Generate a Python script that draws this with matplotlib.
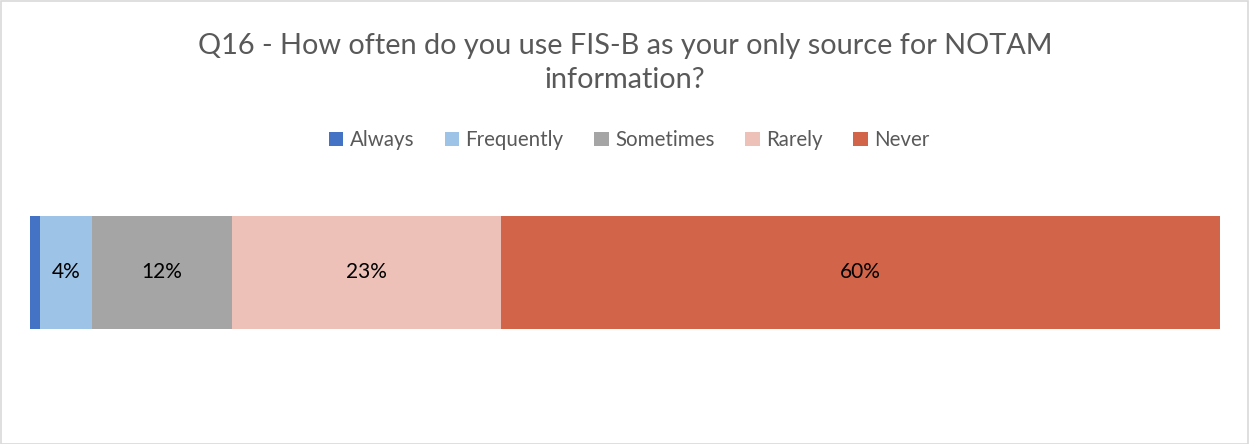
import matplotlib
matplotlib.use("Agg")
import matplotlib.pyplot as plt
from matplotlib.patches import Rectangle

categories = ["Always", "Frequently", "Sometimes", "Rarely", "Never"]
values = [0.8, 4.4, 11.8, 22.6, 60.4]
labels = ["", "4%", "12%", "23%", "60%"]
colors = ["#4472C4", "#9DC3E6", "#A5A5A5", "#EDC0B8", "#D26549"]
title = "Q16 - How often do you use FIS-B as your only source for NOTAM\ninformation?"

plt.rcParams['font.family'] = ['Lato', 'DejaVu Sans']

W, H = 1249, 444
fig = plt.figure(figsize=(W / 100, H / 100), dpi=100)
fig.patches.append(Rectangle((0.5 / W, 0.5 / H), 1 - 2 / W, 1 - 2 / H, transform=fig.transFigure,
                             fill=False, edgecolor="#D9D9D9", linewidth=1.2))

ax = fig.add_axes([30 / W, (H - 329) / H, 1190 / W, 113 / H])
left = 0
handles = []
for cat, v, lab, c in zip(categories, values, labels, colors):
    b = ax.barh(0, v, left=left, height=1.0, color=c, label=cat)
    handles.append(b)
    if lab:
        ax.text(left + v / 2, 0, lab, ha="center", va="center", fontsize=15, color="#000000")
    left += v
ax.set_xlim(0, 100)
ax.set_ylim(-0.5, 0.5)
ax.axis("off")

fig.text(625 / W, 1 - 63 / H, title, ha="center", va="center", fontsize=20.8, color="#595959",
         linespacing=1.35)

fig.legend(handles=handles, labels=categories, loc="center", bbox_to_anchor=(629 / W, 1 - 140 / H),
           ncol=5, frameon=False, fontsize=14.8, handlelength=0.7, handleheight=0.7,
           handletextpad=0.3, columnspacing=1.5, labelcolor="#595959")

fig.savefig("out.png", dpi=100)
